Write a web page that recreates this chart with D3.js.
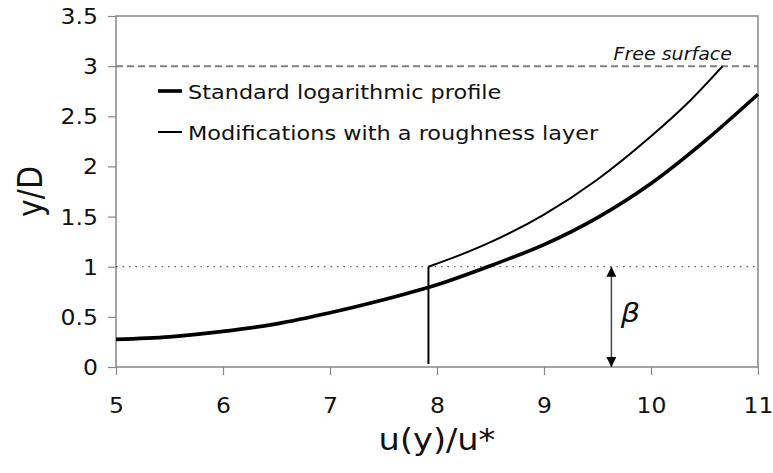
<!DOCTYPE html>
<html><head><meta charset="utf-8">
<script src="https://cdn.jsdelivr.net/npm/d3@7"></script>
<style>body{margin:0;background:#fff} text{font-family:"DejaVu Sans",Verdana,sans-serif;fill:#111}</style>
</head><body><svg id="c" width="773" height="473"></svg>
<script>
// ---- data ----
const xTicks = [5, 6, 7, 8, 9, 10, 11];
const yTicks = [0, 0.5, 1, 1.5, 2, 2.5, 3, 3.5];
const yTickLabels = ["0", "0.5", "1", "1.5", "2", "2.5", "3", "3.5"];
const stdU = [5, 5.5, 6, 6.5, 7, 7.5, 8, 8.5, 9, 9.5, 10, 10.5, 11];
const stdY = [0.275, 0.30, 0.355, 0.43, 0.54, 0.67, 0.82, 1.01, 1.22, 1.49, 1.83, 2.25, 2.72];
const roughU = [7.92, 7.92, 8.2, 8.5, 9.0, 9.5, 10.0, 10.36, 10.67];
const roughY = [0.03, 1.0, 1.11, 1.245, 1.52, 1.87, 2.30, 2.65, 3.0];
const seriesNames = ["Standard logarithmic profile", "Modifications with a roughness layer"];
const freeSurfaceLevel = 3, freeSurfaceLabel = "Free surface";
const betaLevel = 1, betaU = 9.63, betaLabel = "\u03B2";
const xTitle = "u(y)/u*", yTitle = "y/D";

// ---- layout ----
const SX = 1.12; // horizontal stretch of the original figure's text
const svg = d3.select("#c");
const L = 116, R = 758, T = 16, B = 367;
const x = d3.scaleLinear().domain([5, 11]).range([L, R]);
const y = d3.scaleLinear().domain([0, 3.5]).range([B, T]);
const grey = "#878787";

// frame
svg.append("rect").attr("x", L).attr("y", T).attr("width", R - L).attr("height", B - T)
  .attr("fill", "none").attr("stroke", grey).attr("stroke-width", 1.5);

// axes
const gx = svg.append("g").attr("transform", `translate(0,${B})`)
  .call(d3.axisBottom(x).tickValues(xTicks).tickSize(8).tickFormat(d3.format("d")));
gx.select(".domain").remove();
gx.selectAll("line").attr("stroke", grey).attr("stroke-width", 1.2);
gx.selectAll("text").attr("y", 46).attr("dy", 0).attr("font-size", 21)
  .attr("font-family", "DejaVu Sans").attr("fill", "#111")
  .attr("transform", `scale(${SX},1)`);

const gy = svg.append("g").attr("transform", `translate(${L},0)`)
  .call(d3.axisLeft(y).tickValues(yTicks).tickSize(8).tickFormat((d, i) => yTickLabels[i]));
gy.select(".domain").remove();
gy.selectAll("line").attr("stroke", grey).attr("stroke-width", 1.2);
gy.selectAll("text").attr("x", -18 / SX).attr("dy", "0.36em").attr("font-size", 21)
  .attr("font-family", "DejaVu Sans").attr("fill", "#111")
  .attr("transform", `scale(${SX},1)`);

// reference lines
svg.append("line").attr("x1", x(5)).attr("x2", x(11)).attr("y1", y(freeSurfaceLevel)).attr("y2", y(freeSurfaceLevel))
  .attr("stroke", "#808080").attr("stroke-width", 2).attr("stroke-dasharray", "7,4");
svg.append("line").attr("x1", x(5)).attr("x2", x(11)).attr("y1", y(betaLevel)).attr("y2", y(betaLevel))
  .attr("stroke", "#333").attr("stroke-width", 1).attr("stroke-dasharray", "1.5,5");

// curves
const std = stdU.map((u, i) => [u, stdY[i]]);
const rough = roughU.map((u, i) => [u, roughY[i]]);
const lineC = d3.line().x(d => x(d[0])).y(d => y(d[1])).curve(d3.curveMonotoneX);
const lineL = d3.line().x(d => x(d[0])).y(d => y(d[1]));
svg.append("path").attr("d", lineC(std)).attr("fill", "none").attr("stroke", "#000").attr("stroke-width", 3.6);
svg.append("path").attr("d", lineL(rough.slice(0, 2))).attr("fill", "none").attr("stroke", "#000").attr("stroke-width", 2);
svg.append("path").attr("d", lineC(rough.slice(1))).attr("fill", "none").attr("stroke", "#000").attr("stroke-width", 2);

// beta arrow
const defs = svg.append("defs");
defs.append("marker").attr("id", "ah").attr("viewBox", "0 -5 10 10").attr("refX", 10).attr("refY", 0)
  .attr("markerWidth", 10).attr("markerHeight", 10).attr("markerUnits", "userSpaceOnUse")
  .attr("orient", "auto-start-reverse")
  .append("path").attr("d", "M0,-5L10,0L0,5Z").attr("fill", "#000");
svg.append("line").attr("x1", x(betaU)).attr("x2", x(betaU)).attr("y1", y(0)).attr("y2", y(betaLevel))
  .attr("stroke", "#444").attr("stroke-width", 1.5)
  .attr("marker-start", "url(#ah)").attr("marker-end", "url(#ah)");
svg.append("text").attr("transform", `translate(${x(betaU) + 19},322) scale(${SX},1)`)
  .attr("text-anchor", "middle").attr("font-family", "Liberation Serif").attr("font-style", "italic")
  .attr("font-size", 27).text(betaLabel);

// free surface label
svg.append("text").attr("transform", `translate(732,60) scale(${SX},1)`)
  .attr("text-anchor", "end").attr("font-style", "italic").attr("font-size", 17).text(freeSurfaceLabel);

// legend
const legY = [91, 132], legW = [3.6, 2];
seriesNames.forEach((n, i) => {
  svg.append("line").attr("x1", 158).attr("x2", 182).attr("y1", legY[i]).attr("y2", legY[i])
    .attr("stroke", "#000").attr("stroke-width", legW[i]);
  svg.append("text").attr("transform", `translate(188,${legY[i] + 8}) scale(${SX},1)`)
    .attr("font-size", 20).text(n);
});

// axis titles
svg.append("text").attr("transform", `translate(${(L + R) / 2},450) scale(${SX},1)`)
  .attr("text-anchor", "middle").attr("font-size", 30).text(xTitle);
svg.append("text").attr("transform", `translate(42,${(T + B) / 2}) scale(${SX},1) rotate(-90)`)
  .attr("text-anchor", "middle").attr("font-size", 30).text(yTitle);
</script></body></html>
